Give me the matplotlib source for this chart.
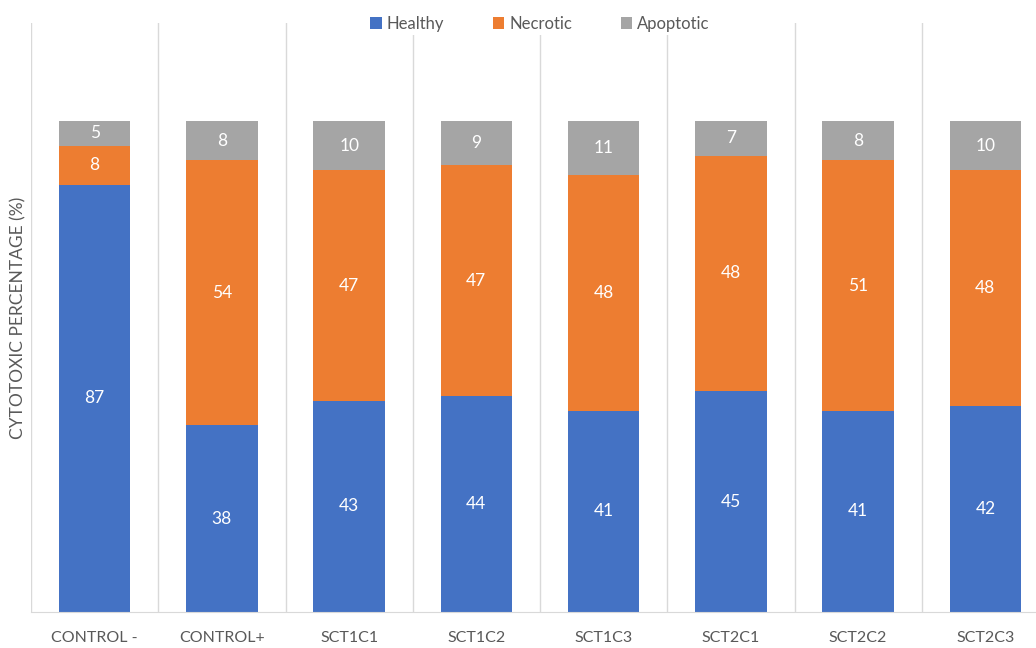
import numpy as np
import matplotlib
matplotlib.use("Agg")
import matplotlib.pyplot as plt
from matplotlib.patches import Patch

plt.rcParams['font.family'] = ['Lato', 'DejaVu Sans']

categories = ["CONTROL -", "CONTROL+", "SCT1C1", "SCT1C2", "SCT1C3", "SCT2C1", "SCT2C2", "SCT2C3"]
healthy = [87, 38, 43, 44, 41, 45, 41, 42]
necrotic = [8, 54, 47, 47, 48, 48, 51, 48]
apoptotic = [5, 8, 10, 9, 11, 7, 8, 10]

series_names = ["Healthy", "Necrotic", "Apoptotic"]
colors = ["#4472C4", "#ED7D31", "#A5A5A5"]
text_gray = "#595959"
grid_gray = "#D9D9D9"

W, H = 1036, 648
fig = plt.figure(figsize=(W / 100, H / 100), dpi=100)
ax = fig.add_axes([31 / W, 36 / H, 1018 / W, 589 / H])

x = np.arange(len(categories))
bottom = np.zeros(len(categories))
for name, vals, col in zip(series_names, [healthy, necrotic, apoptotic], colors):
    vals = np.array(vals, dtype=float)
    ax.bar(x, vals, width=0.56, bottom=bottom, color=col, label=name, zorder=3)
    for xi, b, v in zip(x, bottom, vals):
        ax.text(xi, b + v / 2, f"{int(v)}", ha="center", va="center",
                color="white", fontsize=12.5, zorder=4)
    bottom += vals

ax.set_xlim(-0.5, len(categories) - 0.5)
ax.set_ylim(0, 120)
ax.set_yticks([])
ax.set_xticks(x)
ax.set_xticklabels(categories, color=text_gray, fontsize=11.5)
ax.tick_params(axis="x", length=0, pad=14)
ax.set_xticks(np.arange(-0.5, len(categories), 1), minor=True)
ax.tick_params(axis="x", which="minor", length=0)
ax.grid(axis="x", which="minor", color=grid_gray, linewidth=1, zorder=0)
for s in ["top", "right", "left"]:
    ax.spines[s].set_visible(False)
ax.spines["bottom"].set_color(grid_gray)
ax.spines["bottom"].set_zorder(5)

ax.set_ylabel("CYTOTOXIC PERCENTAGE (%)", color=text_gray, fontsize=12.5)
ax.yaxis.set_label_coords(-5 / 1018, 0.5)

handles = [Patch(facecolor=c, edgecolor="none") for c in colors]
fig.legend(handles, series_names, loc="center", bbox_to_anchor=(540 / W, 1 - 24 / H),
           ncol=3, frameon=True, facecolor="white", edgecolor="none", framealpha=1,
           fontsize=12, handlelength=0.7, handleheight=0.7, handletextpad=0.3,
           columnspacing=2.9, labelcolor=text_gray, borderpad=0.2)

fig.savefig("out.png", dpi=100, facecolor="white")
